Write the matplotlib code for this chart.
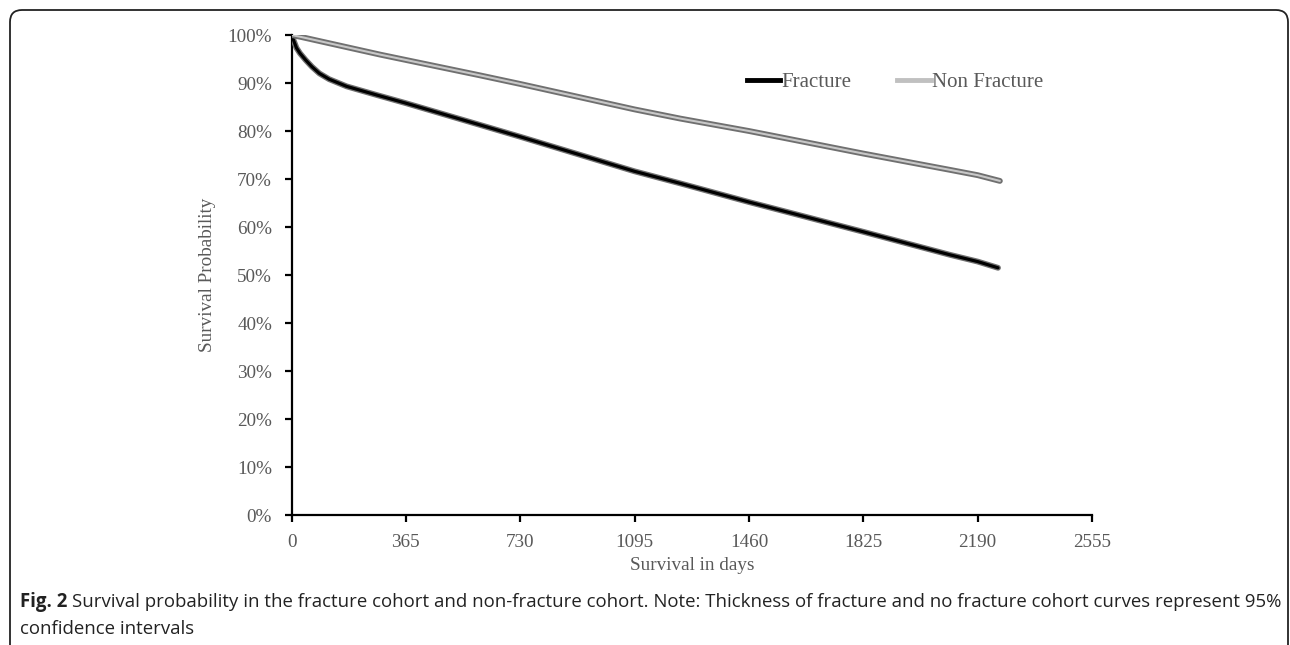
import matplotlib
matplotlib.use("Agg")
import matplotlib.pyplot as plt
import matplotlib.patheffects as pe
import matplotlib.transforms as mtransforms
from matplotlib.patches import FancyBboxPatch
from matplotlib.ticker import FuncFormatter
from matplotlib.lines import Line2D

# ---- data ----
frac_days = [0, 6, 16, 27, 45, 65, 89, 120, 176, 272, 365, 600, 730, 1095, 1240,
             1460, 1825, 2102, 2190, 2255]
frac_surv = [1.000, 0.990, 0.973, 0.962, 0.948, 0.934, 0.920, 0.908, 0.893, 0.875,
             0.858, 0.813, 0.788, 0.716, 0.691, 0.652, 0.590, 0.542, 0.528, 0.515]

nonfrac_days = [0, 30, 284, 365, 601, 730, 1095, 1240, 1460, 1825, 2102, 2190, 2261]
nonfrac_surv = [1.000, 0.996, 0.959, 0.948, 0.916, 0.898, 0.845, 0.826,
                0.800, 0.753, 0.719, 0.708, 0.696]

xticks = [0, 365, 730, 1095, 1460, 1825, 2190, 2555]
yticks = [0, .1, .2, .3, .4, .5, .6, .7, .8, .9, 1.0]

series_names = ["Fracture", "Non Fracture"]

W, H = 1290, 645
fig = plt.figure(figsize=(W / 100, H / 100), dpi=100)

# rounded frame, drawn in pixel coordinates (origin bottom-left)
px = mtransforms.Affine2D().scale(1 / W, 1 / H) + fig.transFigure
frame = FancyBboxPatch((10, -40), 1288 - 10, (H - 10) + 40,
                       boxstyle="round,pad=0,rounding_size=12",
                       transform=px, fill=False, edgecolor="#222222", linewidth=1.3)
fig.patches.append(frame)

ax = fig.add_axes([291.5 / W, 1 - 515 / H, (1092 - 291.5) / W, (515 - 35) / H])

serif = ["Liberation Serif", "DejaVu Serif"]
gray = "#595959"

ax.plot(frac_days, frac_surv, color="black", lw=2.3, solid_capstyle="round",
        path_effects=[pe.Stroke(linewidth=4.2, foreground="#707070"), pe.Normal()],
        label=series_names[0], zorder=3)
ax.plot(nonfrac_days, nonfrac_surv, color="#c8c8c8", lw=1.5, solid_capstyle="round",
        path_effects=[pe.Stroke(linewidth=4.2, foreground="#707070"), pe.Normal()],
        label=series_names[1], zorder=3)

ax.set_xlim(0, 2555)
ax.set_ylim(0, 1.0)
ax.set_xticks(xticks)
ax.set_yticks(yticks)
ax.yaxis.set_major_formatter(FuncFormatter(lambda v, p: f"{v*100:.0f}%"))
for s in ["top", "right"]:
    ax.spines[s].set_visible(False)
for s in ["left", "bottom"]:
    ax.spines[s].set_linewidth(1.6)
    ax.spines[s].set_color("black")
ax.tick_params(direction="out", length=5, width=1.6, color="black", labelcolor=gray,
               labelsize=13.8, pad=9)
for lab in ax.get_xticklabels() + ax.get_yticklabels():
    lab.set_fontfamily(serif)

ax.set_xlabel("Survival in days", fontsize=13.8, color=gray, family=serif, labelpad=4)
ax.set_ylabel("Survival Probability", fontsize=13.8, color=gray, family=serif, labelpad=8)

h1 = Line2D([], [], color="black", lw=3.5)
h2 = Line2D([], [], color="#c0c0c0", lw=3.5)
leg = ax.legend([h1, h2], series_names, loc="center", bbox_to_anchor=(0.754, 0.902),
                ncol=2, frameon=False, handlelength=1.6, handletextpad=0.05,
                columnspacing=2.2, prop={"family": serif, "size": 15})
for t in leg.get_texts():
    t.set_color(gray)

# caption
cap_font = ["Open Sans", "DejaVu Sans"]
cap_size = 13.4
t0 = fig.text(20 / W, 1 - 607 / H, "Fig. 2", fontsize=cap_size, fontweight="bold",
              family=cap_font, color="#222222", va="baseline")
r = fig.canvas.get_renderer()
bb = t0.get_window_extent(renderer=r)
fig.text((bb.x1 + 5) / W, 1 - 607 / H,
         "Survival probability in the fracture cohort and non-fracture cohort. Note: Thickness of fracture and no fracture cohort curves represent 95%",
         fontsize=cap_size, family=cap_font, color="#222222", va="baseline")
fig.text(20 / W, 1 - 634 / H, "confidence intervals", fontsize=cap_size, family=cap_font,
         color="#222222", va="baseline")

fig.savefig("out.png", dpi=100)
